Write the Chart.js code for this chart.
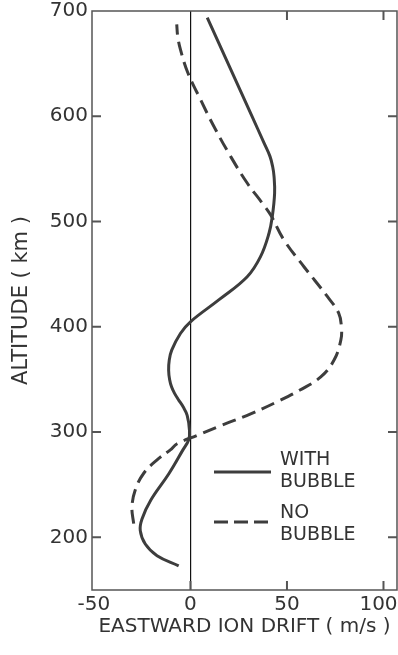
<!DOCTYPE html>
<html>
<head>
<meta charset="utf-8">
<script src="https://cdn.jsdelivr.net/npm/chart.js@4.4.1/dist/chart.umd.min.js"></script>
<style>
  html, body { margin: 0; padding: 0; background: #fff; }
  #wrap { width: 398px; height: 655px; }
</style>
</head>
<body>
<div id="wrap"><canvas id="chart" width="398" height="655"></canvas></div>
<script>
// valores (altitud en km, deriva en m/s)
const altWithBubble   = [173, 182.6, 193.7, 206.4, 217.5, 235.5, 260.4, 283.1, 292.7, 301.7, 315.9, 324, 331, 337, 343, 350, 358.8, 368, 377.8, 393.7, 404.8, 426, 447.6, 466.7, 488.9, 504.8, 527, 542.9, 552, 561.9, 574.7, 601.6, 647.6, 693.7];
const driftWithBubble = [-6.1, -17.3, -23.4, -26, -25.1, -20.5, -11.2, -3.9, -0.9, -0.5, -1.7, -3.8, -6.3, -8.3, -9.8, -10.8, -11.3, -11, -9.7, -5.2, 0, 15, 29.4, 36.3, 40.7, 42.4, 43.6, 43.3, 42.6, 41.2, 38.1, 31.5, 20.1, 8.7];

const altNoBubble   = [213, 228.6, 245, 260.9, 273.6, 283.1, 288.9, 296.9, 306.4, 317.5, 330.2, 339.7, 352.4, 368.4, 387.3, 400, 413, 428.6, 457.1, 482.6, 506.4, 517.5, 536.6, 561.9, 590.5, 615.9, 641.6, 663.5, 675.9, 687.3];
const driftNoBubble = [-29.4, -30.3, -28.6, -24.2, -17.3, -10.4, -6.9, 3.5, 16, 31.5, 46.5, 56.5, 67.5, 74.4, 77.9, 78.2, 76.8, 71, 58.8, 48.4, 41.5, 37.2, 29.4, 20.8, 12.1, 5.2, -1.4, -5.2, -6.6, -7.1];

const xTickValues = [-50, 0, 50, 100];
const yTickValues = [200, 300, 400, 500, 600, 700];
const seriesLabels = ['WITH BUBBLE', 'NO BUBBLE'];

const INK = '#3d3d3d';

function toPoints(xs, ys) {
    return xs.map((v, i) => ({ x: v, y: ys[i] }));
}

Chart.defaults.font.family = "'DejaVu Sans', sans-serif";
Chart.defaults.color = '#333';

// marco, marcas interiores y leyenda
const framePlugin = {
    id: 'frame',
    afterDatasetsDraw(chart) {
        const { ctx, chartArea: a, scales: { x, y } } = chart;
        ctx.save();
        ctx.strokeStyle = '#555';
        ctx.lineWidth = 1.5;
        ctx.strokeRect(a.left, a.top, a.right - a.left, a.bottom - a.top);

        ctx.lineWidth = 2;
        ctx.beginPath();
        xTickValues.forEach(v => {
            const px = x.getPixelForValue(v);
            if (px - a.left < 4 || a.right - px < 4) return;
            if (v !== 0) { ctx.moveTo(px, a.top); ctx.lineTo(px, a.top + 9); }
            ctx.moveTo(px, a.bottom); ctx.lineTo(px, a.bottom - 9);
        });
        yTickValues.forEach(v => {
            const py = y.getPixelForValue(v);
            if (py - a.top < 4 || a.bottom - py < 4) return;
            ctx.moveTo(a.left, py); ctx.lineTo(a.left + 9, py);
            ctx.moveTo(a.right, py); ctx.lineTo(a.right - 9, py);
        });
        ctx.stroke();

        // leyenda
        const items = [
            { dash: [], lineY: 472, textY: [460, 482] },
            { dash: [14, 6], lineY: 522, textY: [513, 535] }
        ];
        ctx.font = "19px 'DejaVu Sans', sans-serif";
        ctx.textBaseline = 'middle';
        ctx.textAlign = 'left';
        items.forEach((it, i) => {
            const ds = chart.data.datasets[i];
            ctx.strokeStyle = ds.borderColor;
            ctx.lineWidth = 3;
            ctx.setLineDash(it.dash);
            ctx.beginPath();
            ctx.moveTo(214, it.lineY);
            ctx.lineTo(271, it.lineY);
            ctx.stroke();
            ctx.setLineDash([]);
            ctx.fillStyle = '#333';
            ds.label.split(' ').forEach((w, k) => ctx.fillText(w, 280, it.textY[k]));
        });
        ctx.restore();
    }
};

new Chart(document.getElementById('chart'), {
    type: 'scatter',
    data: {
        datasets: [
            {
                label: seriesLabels[0],
                data: toPoints(driftWithBubble, altWithBubble),
                showLine: true,
                borderColor: INK,
                borderWidth: 3,
                pointRadius: 0,
                tension: 0.4
            },
            {
                label: seriesLabels[1],
                data: toPoints(driftNoBubble, altNoBubble),
                showLine: true,
                borderColor: INK,
                borderWidth: 3,
                borderDash: [14, 7],
                pointRadius: 0,
                tension: 0.4
            }
        ]
    },
    options: {
        responsive: false,
        animation: false,
        devicePixelRatio: 1,
        layout: { padding: { top: 11, right: 1, left: 0, bottom: 0 } },
        plugins: { legend: { display: false }, tooltip: { enabled: false } },
        scales: {
            x: {
                type: 'linear',
                min: -51,
                max: 107,
                afterBuildTicks: s => { s.ticks = xTickValues.map(v => ({ value: v })); },
                afterFit: s => { s.height = 65; s.paddingLeft = 0; s.paddingRight = 0; },
                border: { display: false },
                grid: {
                    drawTicks: false,
                    color: c => (c.tick && c.tick.value === 0 ? '#111' : 'rgba(0,0,0,0)'),
                    lineWidth: 1.2
                },
                ticks: {
                    padding: 3,
                    font: { size: 20 },
                    color: '#333',
                    maxRotation: 0,
                    // la última etiqueta queda algo a la izquierda, como en el original
                    callback: v => (v === 100 ? '100\u2002' : String(v))
                },
                title: {
                    display: true,
                    text: 'EASTWARD ION DRIFT ( m/s )',
                    font: { size: 20 },
                    color: '#333',
                    padding: { top: 0, bottom: 16 }
                }
            },
            y: {
                type: 'linear',
                min: 150,
                max: 700,
                afterBuildTicks: s => { s.ticks = yTickValues.map(v => ({ value: v })); },
                afterFit: s => { s.width = 92; s.paddingTop = 0; s.paddingBottom = 0; },
                border: { display: false },
                grid: { display: false, drawTicks: false },
                ticks: { padding: 4, font: { size: 20 }, color: '#333' },
                title: {
                    display: true,
                    text: 'ALTITUDE ( km )',
                    font: { size: 21 },
                    color: '#333',
                    padding: { top: 9, bottom: 0 }
                }
            }
        }
    },
    plugins: [framePlugin]
});
</script>
</body>
</html>
